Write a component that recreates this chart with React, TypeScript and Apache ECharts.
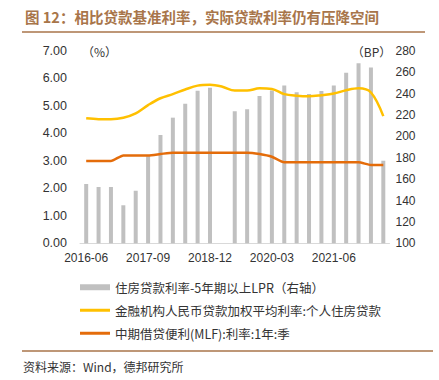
import React, { useEffect, useRef } from "react";
import * as echarts from "echarts";

const categories = [
  "2016-06", "2016-09", "2016-12", "2017-03", "2017-06", "2017-09", "2017-12",
  "2018-03", "2018-06", "2018-09", "2018-12", "2019-03", "2019-06", "2019-09",
  "2019-12", "2020-03", "2020-06", "2020-09", "2020-12", "2021-03", "2021-06",
  "2021-09", "2021-12", "2022-03", "2022-06",
];

// 住房贷款利率-5年期以上LPR (BP, right axis)
const spreadBP = [
  155.5, 152.7, 152.7, 135.6, 149.2, 181.5, 201.4, 217.6, 230.7, 242.8, 245.5,
  null, 223.5, 225.5, 237.9, 243.0, 247.7, 241.3, 239.8, 242.6, 247.7, 259.7,
  268.5, 264.5, 177.3,
];

// 金融机构人民币贷款加权平均利率:个人住房贷款 (%)
const mortgageRate = [
  4.55, 4.52, 4.52, 4.57, 4.73, 5.03, 5.28, 5.43, 5.6, 5.74, 5.77, 5.7, 5.56,
  5.56, 5.64, 5.62, 5.43, 5.37, 5.35, 5.39, 5.45, 5.57, 5.64, 5.49, 4.63,
];

// 中期借贷便利(MLF):利率:1年:季 (%)
const mlfRate = [
  3.0, 3.0, 3.0, 3.2, 3.2, 3.2, 3.25, 3.3, 3.3, 3.3, 3.3, 3.3, 3.3, 3.3, 3.25,
  3.15, 2.95, 2.95, 2.95, 2.95, 2.95, 2.95, 2.95, 2.85, 2.85,
];

const seriesNames = [
  "住房贷款利率-5年期以上LPR（右轴）",
  "金融机构人民币贷款加权平均利率:个人住房贷款",
  "中期借贷便利(MLF):利率:1年:季",
];

const leftTicks = { min: 0, max: 7, interval: 1 };
const rightTicks = { min: 100, max: 280, interval: 20 };

const FONT = "'Liberation Sans', 'Noto Sans CJK SC', sans-serif";
const CJK = "'Noto Sans CJK SC', sans-serif";
const BROWN = "#a8754a";
const GRAY = "#c0c0c0";
const YELLOW = "#ffc000";
const ORANGE = "#e46c0a";

const legendText = { fontFamily: CJK, fontSize: 12.5, color: "#333" };

export default function App() {
  const ref = useRef<HTMLDivElement>(null);

  useEffect(() => {
    if (!ref.current) return;
    const chart = echarts.init(ref.current, null, { renderer: "svg" });
    chart.setOption({
      animation: false,
      backgroundColor: "#ffffff",
      textStyle: { fontFamily: FONT },
      grid: { left: 80, right: 49.5, top: 51, bottom: 136.7, containLabel: false },
      legend: [
        {
          left: 75,
          top: 276,
          itemWidth: 30,
          itemHeight: 6,
          textStyle: legendText,
          data: [{ name: seriesNames[0], icon: "rect" }],
        },
        {
          left: 75,
          top: 299,
          itemWidth: 30,
          itemHeight: 3,
          textStyle: legendText,
          data: [{ name: seriesNames[1], icon: "rect", itemStyle: { color: YELLOW } }],
        },
        {
          left: 75,
          top: 322,
          itemWidth: 30,
          itemHeight: 3,
          textStyle: legendText,
          data: [{ name: seriesNames[2], icon: "rect", itemStyle: { color: ORANGE } }],
        },
      ],
      xAxis: {
        type: "category",
        data: categories,
        axisTick: { show: false },
        axisLine: { lineStyle: { color: "#d9d9d9", width: 1 } },
        axisLabel: { interval: 4, color: "#333", fontSize: 12, margin: 9 },
      },
      yAxis: [
        {
          type: "value",
          min: leftTicks.min,
          max: leftTicks.max,
          interval: leftTicks.interval,
          splitLine: { show: false },
          axisLine: { show: false },
          axisTick: { show: false },
          axisLabel: {
            color: "#333",
            fontSize: 12.5,
            margin: 13,
            formatter: (v: number) => v.toFixed(2),
          },
        },
        {
          type: "value",
          min: rightTicks.min,
          max: rightTicks.max,
          interval: rightTicks.interval,
          splitLine: { show: false },
          axisLine: { show: false },
          axisTick: { show: false },
          axisLabel: { color: "#333", fontSize: 12, margin: 6, align: "left" },
        },
      ],
      series: [
        {
          name: seriesNames[0],
          type: "bar",
          yAxisIndex: 1,
          data: spreadBP,
          barWidth: 4,
          itemStyle: { color: GRAY },
        },
        {
          name: seriesNames[1],
          type: "line",
          yAxisIndex: 0,
          data: mortgageRate,
          smooth: 0.35,
          symbol: "none",
          lineStyle: { color: YELLOW, width: 2.5 },
          itemStyle: { color: YELLOW },
        },
        {
          name: seriesNames[2],
          type: "line",
          yAxisIndex: 0,
          data: mlfRate,
          smooth: 0.2,
          symbol: "none",
          lineStyle: { color: ORANGE, width: 2.5 },
          itemStyle: { color: ORANGE },
        },
      ],
      graphic: [
        {
          type: "text",
          left: 25,
          top: 9,
          style: {
            text: "图 12：相比贷款基准利率，实际贷款利率仍有压降空间",
            fill: BROWN,
            font: `bold 14.5px ${CJK}`,
          },
        },
        {
          type: "line",
          shape: { x1: 22, y1: 32, x2: 425, y2: 32 },
          style: { stroke: BROWN, lineWidth: 1.5 },
        },
        {
          type: "text",
          x: 99.5,
          y: 51,
          style: {
            text: "（%）",
            fill: "#333",
            font: `12px ${CJK}`,
            align: "center",
            verticalAlign: "middle",
          },
        },
        {
          type: "text",
          x: 371.5,
          y: 51,
          style: {
            text: "（BP）",
            fill: "#333",
            font: `12px ${CJK}`,
            align: "center",
            verticalAlign: "middle",
          },
        },
        {
          type: "line",
          shape: { x1: 22, y1: 351, x2: 433, y2: 351 },
          style: { stroke: BROWN, lineWidth: 1.5 },
        },
        {
          type: "text",
          x: 23,
          y: 366,
          style: {
            text: "资料来源：Wind，德邦研究所",
            fill: "#333",
            font: `12px ${CJK}`,
            verticalAlign: "middle",
          },
        },
      ],
    });
    return () => chart.dispose();
  }, []);

  return (
    <div
      ref={ref}
      style={{ position: "fixed", left: 0, top: 0, width: 439, height: 380, background: "#fff" }}
    />
  );
}
